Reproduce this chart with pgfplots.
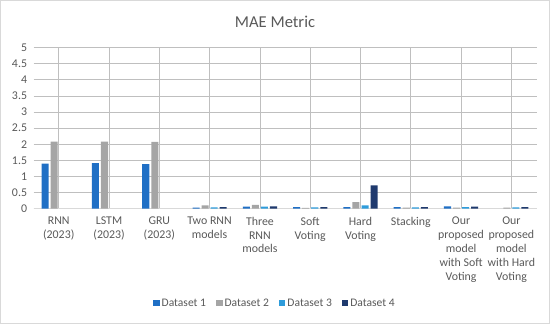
\documentclass[border=0pt]{standalone}
\usepackage{pgfplots}
\pgfplotsset{compat=1.18}
\usepackage{fontspec}
\setmainfont{Carlito}
\definecolor{dsA}{HTML}{1F6FC5}
\definecolor{dsB}{HTML}{A5A5A5}
\definecolor{dsC}{HTML}{2E9CDB}
\definecolor{dsD}{HTML}{1F3A6E}
\definecolor{txt}{HTML}{595959}
\definecolor{grid}{HTML}{D9D9D9}
\begin{document}
\begin{tikzpicture}[x=1pt,y=1pt]
\path[draw=grid, line width=0.8pt] (2,2) rectangle (548,323);
\begin{axis}[
  at={(35pt,116pt)}, anchor=south west,
  scale only axis, width=500pt, height=160pt,
  xmin=-0.5, xmax=9.5, ymin=0, ymax=5,
  ybar=2pt, bar width=7pt,
  axis line style={draw=none},
  ytick={0,0.5,...,5},
  ymajorgrids, grid style={grid, line width=0.8pt},
  xtick={0,...,9},
  xticklabels={{RNN\\(2023)},{LSTM\\(2023)},{GRU\\(2023)},{Two RNN\\models},{Three\\RNN\\models},{Soft\\Voting},{Hard\\Voting},{Stacking},{Our\\proposed\\model\\with Soft\\Voting},{Our\\proposed\\model\\with Hard\\Voting}},
  xticklabel style={align=center, font=\fontsize{11.8}{13.7}\selectfont, text=txt, anchor=north, yshift=-5pt},
  yticklabel style={font=\fontsize{11.8}{13}\selectfont, text=txt, xshift=-3pt},
  /pgf/number format/assume math mode=true,
  major tick length=0pt,
  legend style={at={(0.48,-0.5875)}, anchor=center, draw=none, fill=none, legend columns=4, font=\fontsize{11.5}{13}\selectfont\color{txt}, /tikz/every even column/.append style={column sep=8pt}},
  legend image code/.code={\fill[#1] (0pt,-3.2pt) rectangle (6.4pt,3.2pt);},
  clip=false,
]
\draw[grid, line width=0.8pt] (axis cs:-0.5,0) -- (axis cs:9.5,0);
\addplot[fill=dsA, draw=none] coordinates {(0,1.40) (1,1.41) (2,1.38) (3,0.03) (4,0.06) (5,0.05) (6,0.05) (7,0.05) (8,0.07)};
\addplot[fill=dsB, draw=none] coordinates {(0,2.08) (1,2.08) (2,2.07) (3,0.10) (4,0.12) (5,0.02) (6,0.20) (7,0.03) (8,0.03) (9,0.03)};
\addplot[fill=dsC, draw=none] coordinates {(3,0.04) (4,0.06) (5,0.04) (6,0.10) (7,0.04) (8,0.05) (9,0.04)};
\addplot[fill=dsD, draw=none] coordinates {(3,0.05) (4,0.07) (5,0.05) (6,0.72) (7,0.05) (8,0.06) (9,0.05)};
\legend{Dataset 1,Dataset 2,Dataset 3,Dataset 4}
\end{axis}
\node[text=txt, font=\fontsize{16.5}{19}\selectfont] at (275,302) {MAE Metric};
\end{tikzpicture}
\end{document}
